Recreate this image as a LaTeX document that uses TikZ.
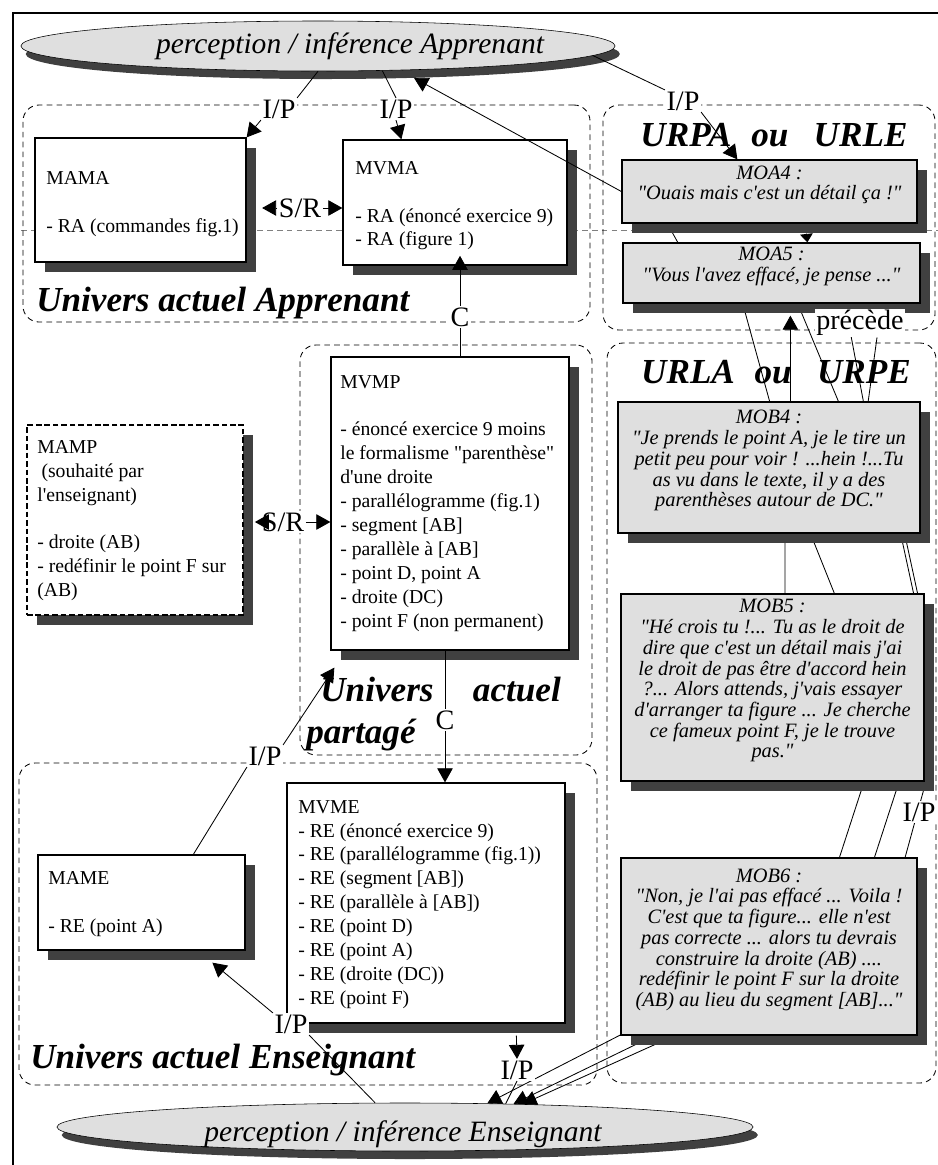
\documentclass[tikz,border=0pt]{standalone}
\usepackage{fontspec}
\setmainfont{Liberation Serif}[Ligatures=TeXOff]
\usepackage{tikz}
\usetikzlibrary{shapes.geometric,shadows,fit,backgrounds,arrows.meta}

\begin{document}
\begin{tikzpicture}[x=0.025cm,y=-0.025cm]
 \tikzstyle{cadre}    = [line width=1.2pt];
 \tikzstyle{univers}  = [draw,dash pattern=on 4pt off 3pt,rounded corners=0.4cm,inner sep=0pt,line width=0.6pt];
 \tikzstyle{boite}    = [draw,fill=white,line width=0.9pt,inner sep=0pt,
                         drop shadow={shadow xshift=0.25cm,shadow yshift=-0.25cm,fill=black!75,opacity=1}];
 \tikzstyle{replique} = [boite,fill=gray!25,align=center,font=\fontsize{14.5}{14.7}\selectfont\itshape];
 \tikzstyle{contenu}  = [anchor=north west,align=left,inner sep=0pt,font=\fontsize{14}{17}\selectfont];
 \tikzstyle{percept}  = [ellipse,draw,fill=gray!25,inner sep=0pt,
                         drop shadow={shadow xshift=0.12cm,shadow yshift=-0.2cm,fill=black!75,opacity=1}];
 \tikzstyle{percepttxt} = [anchor=base,inner sep=0pt,font=\fontsize{21}{24}\selectfont\itshape];
 \tikzstyle{titre}    = [anchor=base west,inner sep=0pt,font=\fontsize{25}{30}\selectfont\bfseries\itshape];
 \tikzstyle{etiq}     = [fill=white,inner sep=1pt,font=\fontsize{20}{24}\selectfont];
 \tikzstyle{trait}    = [line width=0.6pt];
 \tikzstyle{fleche}   = [trait,-{Triangle[length=10pt,width=11pt]}];

 \useasboundingbox (0,0) rectangle (938,1165);

 %% cadre
 \draw[cadre] (13,1165) -- (13,13) -- (938,13);
 \draw[gray,dash pattern=on 4pt off 3pt,line width=0.5pt] (21,230) -- (938,230);

 %% univers
 \node[univers,fit={(23,105) (590,322)},name=regA] {};
 \node[univers,fit={(300,345) (592,755)},name=regP] {};
 \node[univers,fit={(19,763) (597,1085)},name=regE] {};
 \node[univers,fit={(603,105) (935,330)},name=regURPA] {};
 \node[univers,fit={(607,343) (936,1083)},name=regURLA] {};

 %% perception / inference
 \node[percept,minimum width=14.85cm,minimum height=1.25cm,name=percA] at (318,46) {};
 \node[percepttxt,name=percA-t] at (350,53) {perception / inférence Apprenant};
 \node[percept,minimum width=17.4cm,minimum height=1.2cm,name=percE] at (405,1127) {};
 \node[percepttxt,name=percE-t] at (403,1141) {perception / inférence Enseignant};

 %% modeles
 \node[boite,fit={(35,138) (246,262)},name=mama] {};
 \node[contenu,name=mama-t] at (46,171) {MAMA\\[17pt]- RA (commandes fig.1)};
 \node[boite,fit={(343,140) (567,265)},name=mvma] {};
 \node[contenu,name=mvma-t] at (355,161) {MVMA\\[17pt]- RA (énoncé exercice 9)\\- RA (figure 1)};
 \node[boite,dash pattern=on 4pt off 2pt,fit={(27,425) (243,615)},name=mamp] {};
 \node[contenu,name=mamp-t] at (37,440) {MAMP\\\hspace{3pt}(souhaité par\\l'enseignant)\\[17pt]- droite (AB)\\- redéfinir le point F sur\\(AB)};
 \node[boite,fit={(331,357) (569,650)},name=mvmp] {};
 \node[contenu,name=mvmp-t] at (340,375) {MVMP\\[17pt]- énoncé exercice 9 moins\\le formalisme "parenthèse"\\d'une droite\\- parallélogramme (fig.1)\\- segment [AB]\\- parallèle à [AB]\\- point D, point A\\- droite (DC)\\- point F (non permanent)};
 \node[boite,fit={(38,855) (245,950)},name=mame] {};
 \node[contenu,name=mame-t] at (48,871) {MAME\\[17pt]- RE (point A)};
 \node[boite,fit={(287,783) (565,1023)},name=mvme] {};
 \node[contenu,name=mvme-t] at (298,800) {MVME\\- RE (énoncé exercice 9)\\- RE (parallélogramme (fig.1))\\- RE (segment [AB])\\- RE (parallèle à [AB])\\- RE (point D)\\- RE (point A)\\- RE (droite (DC))\\- RE (point F)};

 %% repliques
 \node[replique,fit={(622,160) (917,223)},name=moa4] {MOA4 :\\"Ouais mais c'est un détail ça !"};
 \node[replique,fit={(623,243) (920,303)},name=moa5] {MOA5 :\\"Vous l'avez effacé, je pense ..."};
 \node[replique,fit={(618,402) (920,533)},name=mob4] {MOB4 :\\"Je prends le point A, je le tire un\\petit peu pour voir ! ...hein !...Tu\\as vu dans le texte, il y a des\\parenthèses autour de DC."};
 \node[replique,fit={(621,594) (924,781)},name=mob5] {MOB5 :\\"Hé crois tu !... Tu as le droit de\\dire que c'est un détail mais j'ai\\le droit de pas être d'accord hein\\?... Alors attends, j'vais essayer\\d'arranger ta figure ... Je cherche\\ce fameux point F, je le trouve\\pas."};
 \node[replique,fit={(621,858) (917,1035)},name=mob6] {MOB6 :\\"Non, je l'ai pas effacé ... Voila !\\C'est que ta figure... elle n'est\\pas correcte ... alors tu devrais\\construire la droite (AB) ....\\redéfinir le point F sur la droite\\(AB) au lieu du segment [AB]..."};

 %% titres
 \node[titre,name=titreA] at (36,311) {Univers actuel Apprenant};
 \node[titre,name=titreE] at (30,1068) {Univers actuel Enseignant};
 \node[titre,anchor=north west,align=left,name=titreP] at (306,677) {\hspace{10pt}Univers\hspace{28pt}actuel\\partagé};
 \node[titre,anchor=base,name=titreURPA] at (774,146) {URPA\hspace{14pt}ou\hspace{18pt}URLE};
 \node[titre,anchor=base,name=titreURLA] at (776,383) {URLA\hspace{14pt}ou\hspace{18pt}URPE};

 %% etiquettes
 \node[etiq,name=ipA1] at (279,109) {I/P};
 \node[etiq,name=ipA2] at (396,109) {I/P};
 \node[etiq,name=ipA3] at (683,101) {I/P};
 \node[etiq,name=srA]  at (300,208) {S/R};
 \node[etiq,name=cA]   at (460,317) {C};
 \node[etiq,name=srP]  at (283,522) {S/R};
 \node[etiq,name=cE]   at (445,720) {C};
 \node[etiq,name=ipP]  at (265,756) {I/P};
 \node[etiq,name=ipE1] at (291,1024) {I/P};
 \node[etiq,name=ipE2] at (517,1070) {I/P};
 \node[etiq,name=ipB]  at (919,812) {I/P};
 \node[etiq,name=prec] at (860,323) {précède};

 %% liens derriere les repliques
 \begin{scope}[on background layer]
  \draw[fleche] ([shift={(46,0)}]moa4.south west) -- (682,250) -- (745,312) -- (772,410) -- (785,540)
        -- (785,600) -- (863,785) -- (837,865) -- (630,1030) -- (percE.16);
  \draw[fleche] ([shift={(172,-8)}]moa5.south west) -- (842,410) -- (813,540) -- (837,600)
        -- (898,785) -- (872,865) -- (645,1040) -- (percE.12);
  \draw[fleche] ([shift={(222,-3)}]moa5.south west) -- (865,410) -- (902,540) -- (915,600)
        -- (925,785) -- (903,865) -- (665,1040) -- (percE.11);
  \draw[trait] ([shift={(17,0)}]prec.south) -- (867,410) -- (906,540) -- (919,600) -- (928,700);
 \end{scope}

 %% liens Apprenant
 \draw[trait] (percA.south) -- (ipA1.north east);
 \draw[fleche] (ipA1.south west) -- (mama.north east);
 \draw[trait] (percA.-21.5) -- (ipA2.north);
 \draw[fleche] (ipA2.south) -- ([shift={(59,0)}]mvma.north west);
 \draw[fleche] (moa4.west) -- ([shift={(0,8)}]percA.-14.5);
 \draw[trait] (percA.-2) -- (ipA3.north west);
 \draw[fleche] (ipA3.south east) -- ([shift={(116,0)}]moa4.north west);
 \draw[fleche,shorten >=11pt] (srA.west) -- (mama.east |- srA.west);
 \draw[fleche] (srA.east) -- (mvma.west |- srA.east);
 \draw[trait] (mvmp.north -| cA) -- (cA);
 \draw[fleche,shorten >=-7pt] (cA) -- (mvma.south -| cA);
 \draw[trait,-{Triangle[length=6pt,width=9pt]}] ([shift={(185,10)}]moa4.south west) -- ([shift={(185,0)}]moa5.north west);
 \draw[fleche] ([shift={(173,0)}]mob4.north west) -- ([shift={(168,12)}]moa5.south west);

 %% liens partage
 \draw[fleche,shorten >=8pt] (srP.west) -- (mamp.east |- srP.west);
 \draw[fleche] (srP.east) -- (mvmp.west |- srP.east);
 \draw[trait] (mvmp.south -| cE) -- (cE);
 \draw[fleche] (cE) -- (mvme.north -| cE);
 \draw[trait] ([shift={(156,0)}]mame.north west) -- (ipP.south west);
 \draw[fleche] (ipP.north east) -- ([shift={(4,17)}]mvmp.south west);

 %% liens Enseignant
 \draw[trait] (percE.141) -- (ipE1.south east);
 \draw[fleche] (ipE1.north west) -- ([shift={(175,12)}]mame.south west);
 \draw[fleche] ([shift={(230,12)}]mvme.south west) -- (ipE2.north);
 \draw[trait] (ipE2.south) -- (percE.13);

\end{tikzpicture}
\end{document}
